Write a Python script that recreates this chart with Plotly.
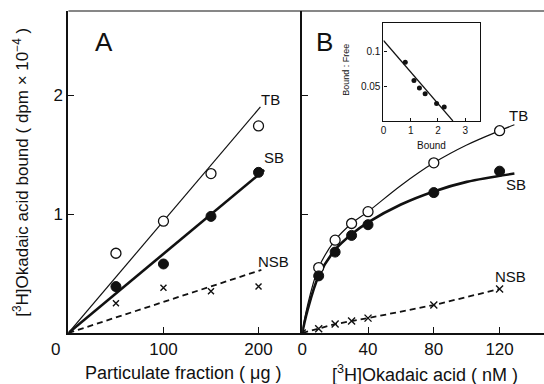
import plotly.graph_objects as go

# ---- Panel A data (particulate fraction, ug) ----
a_x = [50, 100, 150, 200]
a_tb = [0.67, 0.94, 1.34, 1.74]
a_sb = [0.39, 0.58, 0.98, 1.35]
a_nsb = [0.25, 0.38, 0.35, 0.39]
# fitted lines (endpoints)
a_tb_line_x = [0, 202]
a_tb_line_y = [0, 1.90]
a_sb_line_x = [0, 206]
a_sb_line_y = [0, 1.37]
a_nsb_line_x = [0, 203]
a_nsb_line_y = [0, 0.53]

# ---- Panel B data ([3H]okadaic acid, nM) ----
b_x = [10, 20, 30, 40, 80, 120]
b_tb = [0.55, 0.78, 0.92, 1.02, 1.43, 1.70]
b_sb = [0.48, 0.68, 0.82, 0.91, 1.18, 1.36]
b_nsb_x = [0, 10, 20, 30, 40, 80, 120]
b_nsb = [0, 0.035, 0.075, 0.10, 0.125, 0.235, 0.37]
# smooth curves
b_tb_curve_x = [0, 3, 10, 20, 30, 40, 60, 80, 100, 120, 129]
b_tb_curve_y = [0, 0.22, 0.55, 0.78, 0.92, 1.02, 1.24, 1.43, 1.58, 1.70, 1.75]
b_sb_curve_x = [0, 3, 10, 20, 30, 40, 60, 80, 100, 129]
b_sb_curve_y = [0, 0.18, 0.48, 0.70, 0.83, 0.93, 1.08, 1.19, 1.27, 1.34]

# ---- Inset (Scatchard) ----
ins_bound = [0.80, 1.12, 1.32, 1.53, 1.95, 2.23]
ins_bf = [0.084, 0.058, 0.047, 0.039, 0.025, 0.020]
ins_line_x = [0, 2.55]
ins_line_y = [0.115, 0.0]

FONT = "Liberation Sans, Arial, sans-serif"
BLK = "#111111"

fig = go.Figure()

# Panel A
fig.add_trace(go.Scatter(x=a_tb_line_x, y=a_tb_line_y, mode="lines",
                         line=dict(color=BLK, width=1.2), xaxis="x", yaxis="y"))
fig.add_trace(go.Scatter(x=a_sb_line_x, y=a_sb_line_y, mode="lines",
                         line=dict(color=BLK, width=2.6), xaxis="x", yaxis="y"))
fig.add_trace(go.Scatter(x=a_nsb_line_x, y=a_nsb_line_y, mode="lines",
                         line=dict(color=BLK, width=1.8, dash="6px,4px"), xaxis="x", yaxis="y"))
fig.add_trace(go.Scatter(x=a_x, y=a_tb, mode="markers",
                         marker=dict(symbol="circle", size=10, color="white",
                                     line=dict(color=BLK, width=1.3)), xaxis="x", yaxis="y"))
fig.add_trace(go.Scatter(x=a_x, y=a_sb, mode="markers",
                         marker=dict(symbol="circle", size=10, color=BLK,
                                     line=dict(color=BLK, width=1)), xaxis="x", yaxis="y"))
fig.add_trace(go.Scatter(x=a_x, y=a_nsb, mode="markers",
                         marker=dict(symbol="x-thin-open", size=6, color=BLK,
                                     line=dict(color=BLK, width=1.4)), xaxis="x", yaxis="y"))

# Panel B
fig.add_trace(go.Scatter(x=b_tb_curve_x, y=b_tb_curve_y, mode="lines",
                         line=dict(color=BLK, width=1.2, shape="spline", smoothing=1.0),
                         xaxis="x2", yaxis="y2"))
fig.add_trace(go.Scatter(x=b_sb_curve_x, y=b_sb_curve_y, mode="lines",
                         line=dict(color=BLK, width=2.6, shape="spline", smoothing=1.0),
                         xaxis="x2", yaxis="y2"))
fig.add_trace(go.Scatter(x=b_nsb_x, y=b_nsb, mode="lines+markers",
                         line=dict(color=BLK, width=1.8, dash="6px,4px"),
                         marker=dict(symbol="x-thin-open", size=7, color=BLK,
                                     line=dict(color=BLK, width=1.4)),
                         xaxis="x2", yaxis="y2"))
fig.add_trace(go.Scatter(x=b_x, y=b_tb, mode="markers",
                         marker=dict(symbol="circle", size=10, color="white",
                                     line=dict(color=BLK, width=1.3)), xaxis="x2", yaxis="y2"))
fig.add_trace(go.Scatter(x=b_x, y=b_sb, mode="markers",
                         marker=dict(symbol="circle", size=10, color=BLK,
                                     line=dict(color=BLK, width=1)), xaxis="x2", yaxis="y2"))

# Inset
fig.add_trace(go.Scatter(x=ins_line_x, y=ins_line_y, mode="lines",
                         line=dict(color=BLK, width=1.2), xaxis="x3", yaxis="y3"))
fig.add_trace(go.Scatter(x=ins_bound, y=ins_bf, mode="markers",
                         marker=dict(symbol="circle", size=5, color=BLK), xaxis="x3", yaxis="y3"))

W, H = 544, 384
def px(x):
    return x / W
def py(y):
    return 1 - y / H

ybot, ytop = 333, 11
axcommon = dict(showgrid=False, zeroline=False, showline=True, linecolor=BLK,
                ticks="inside", tickcolor=BLK, ticklen=6, tickwidth=1.2,
                tickfont=dict(family=FONT, size=17, color=BLK))

fig.update_layout(
    width=W, height=H,
    margin=dict(l=0, r=0, t=0, b=0),
    paper_bgcolor="white", plot_bgcolor="rgba(0,0,0,0)",
    showlegend=False,
    xaxis=dict(axcommon, domain=[px(64), px(300)], range=[0, 246],
               tickvals=[100, 200], linewidth=2, anchor="y"),
    yaxis=dict(axcommon, domain=[py(ybot), py(ytop)], range=[0, 2.706],
               tickvals=[1, 2], linewidth=2, anchor="x"),
    xaxis2=dict(axcommon, domain=[px(300), 1.0], range=[0, 147],
                tickvals=[0, 40, 80, 120], linewidth=2, anchor="y2"),
    yaxis2=dict(axcommon, domain=[py(ybot), py(ytop)], range=[0, 2.706],
                tickvals=[1, 2], showticklabels=False, linewidth=2, anchor="x2"),
    xaxis3=dict(showgrid=False, zeroline=False, showline=True, linecolor=BLK, linewidth=1.2,
                mirror=True, ticks="inside", ticklen=3, tickcolor=BLK,
                domain=[px(382), px(479)], range=[0, 3.53],
                tickvals=[0, 1, 2, 3], tickfont=dict(family=FONT, size=10, color=BLK),
                anchor="y3"),
    yaxis3=dict(showgrid=False, zeroline=False, showline=True, linecolor=BLK, linewidth=1.2,
                mirror=True, ticks="inside", ticklen=3, tickcolor=BLK,
                domain=[py(121), py(23)], range=[0, 0.14],
                tickvals=[0.05, 0.1], ticktext=["0.05", "0.1"],
                tickfont=dict(family=FONT, size=10, color=BLK), anchor="x3"),
)

# top frame line
fig.add_shape(type="line", xref="paper", yref="paper",
              x0=px(64), x1=1.0, y0=py(ytop), y1=py(ytop),
              line=dict(color=BLK, width=1.2))

def ann(text, x, y, size=14, **kw):
    fig.add_annotation(text=text, x=x, y=y, xref="paper", yref="paper",
                       xanchor="center", yanchor="middle",
                       showarrow=False, font=dict(family=FONT, size=size, color=BLK), **kw)

ann("A", px(100), py(42), size=26)
ann("B", px(322), py(42), size=26)
ann("TB", px(268), py(99), size=15)
ann("SB", px(271), py(158), size=15)
ann("NSB", px(271), py(261), size=15)
ann("TB", px(518), py(115), size=15)
ann("SB", px(516), py(185), size=15)
ann("NSB", px(510), py(276), size=15)
ann("0", px(51), py(349), size=17)
ann("Particulate fraction ( μg )", px(180), py(373), size=18)
ann("[<sup>3</sup>H]Okadaic acid ( nM )", px(424), py(373), size=18)
ann("[<sup>3</sup>H]Okadaic acid bound ( dpm × 10<sup>−4</sup> )", px(16), py(172),
    size=17, textangle=-90)
ann("Bound", px(430), py(146), size=10)
ann("Bound : Free", px(344), py(70), size=9, textangle=-90)

fig.write_html("out.html", config={"displayModeBar": False},
               post_script="document.body.style.margin='0';document.body.style.padding='0';document.body.style.overflow='hidden';")
